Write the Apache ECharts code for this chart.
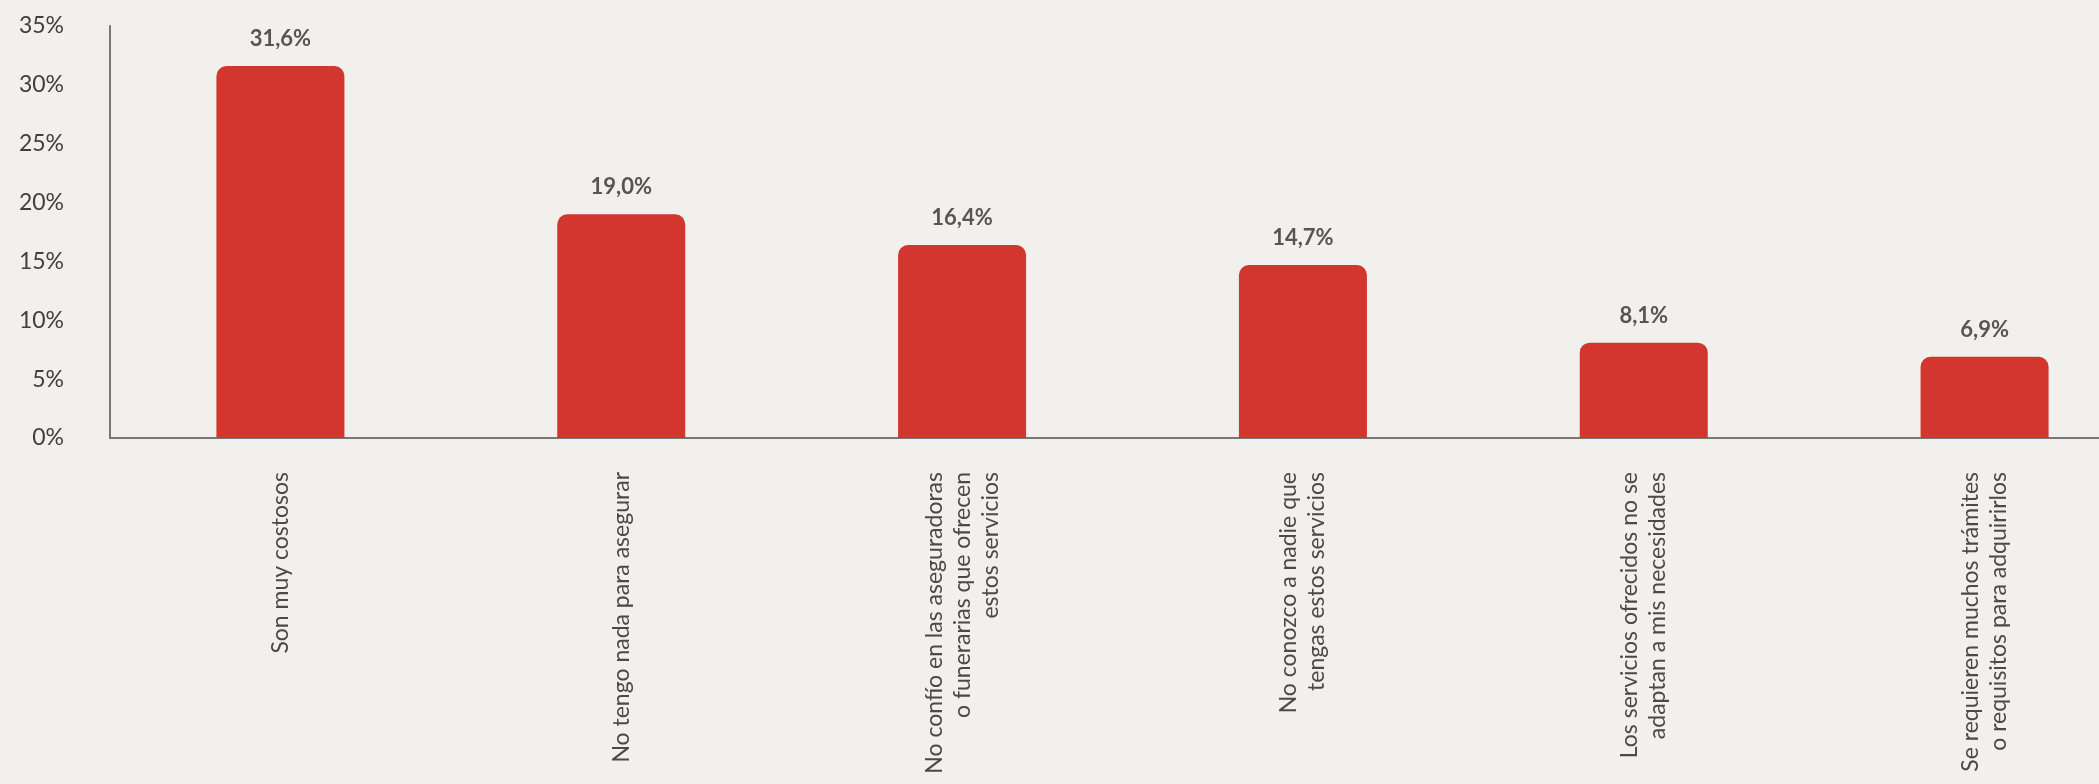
<!DOCTYPE html>
<html>
<head>
<meta charset="utf-8">
<script src="https://cdn.jsdelivr.net/npm/echarts@6/dist/echarts.min.js"></script>
<style>
html,body{margin:0;padding:0;background:#F2F0EC;overflow:hidden;}
#chart{width:2160px;height:784px;}
</style>
</head>
<body>
<div id="chart"></div>
<script>
const categories = [
  "Son muy costosos",
  "No tengo nada para asegurar",
  "No confío en las aseguradoras\no funerarias que ofrecen\nestos servicios",
  "No conozco a nadie que\ntengas estos servicios",
  "Los servicios ofrecidos no se\nadaptan a mis necesidades",
  "Se requieren muchos trámites\no requisitos para adquirirlos"
];
const values = [31.6, 19.0, 16.4, 14.7, 8.1, 6.9];
const yTicks = [0, 5, 10, 15, 20, 25, 30, 35];

const chart = echarts.init(document.getElementById('chart'), null, {renderer: 'canvas'});
chart.setOption({
  backgroundColor: '#F2F0EC',
  animation: false,
  grid: {left: 110, right: 5, top: 26, bottom: 346, containLabel: false},
  xAxis: {
    type: 'category',
    data: categories,
    axisTick: {show: false},
    axisLine: {lineStyle: {color: '#777777', width: 2}},
    axisLabel: {
      rotate: 90,
      interval: 0,
      margin: 34,
      fontFamily: 'Lato',
      fontSize: 23,
      lineHeight: 28,
      color: '#4a4a4a'
    }
  },
  yAxis: {
    type: 'value',
    min: yTicks[0],
    max: yTicks[yTicks.length - 1],
    interval: 5,
    splitLine: {show: false},
    axisTick: {show: false},
    axisLine: {show: true, lineStyle: {color: '#777777', width: 2}},
    axisLabel: {
      formatter: '{value}%',
      margin: 46,
      fontFamily: 'Lato',
      fontSize: 23,
      color: '#3f3f3f'
    }
  },
  series: [{
    type: 'bar',
    data: values,
    barWidth: 128,
    itemStyle: {color: '#D3352F', borderRadius: [10, 10, 0, 0]},
    label: {
      show: true,
      position: 'top',
      distance: 16,
      fontFamily: 'Lato',
      fontWeight: 'bold',
      fontSize: 22,
      color: '#555555',
      formatter: p => p.value.toFixed(1).replace('.', ',') + '%'
    }
  }]
});
</script>
</body>
</html>
